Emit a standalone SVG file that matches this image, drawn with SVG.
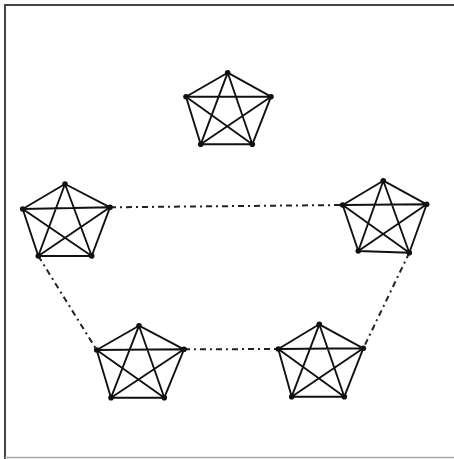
<svg xmlns="http://www.w3.org/2000/svg" width="454" height="459" viewBox="0 0 454 459">
<style>
.k{fill:none;stroke:#111;stroke-width:1.9;stroke-linejoin:round}
.d{fill:#111}
.c{fill:none;stroke:#222;stroke-width:2;stroke-dasharray:6 4 2 4}
</style>
<rect x="0" y="0" width="454" height="459" fill="#fff"/>
<path d="M5 459V5H454" fill="none" stroke="#444" stroke-width="2"/>
<path d="M5 457.5H454" fill="none" stroke="#aaa" stroke-width="1.5"/>
<g id="connectors">
<path class="c" d="M110 207.3L342.7 205"/>
<path class="c" d="M38.3 256L96.7 350"/>
<path class="c" d="M184 349.3L278.3 349"/>
<path class="c" d="M409.3 252.7L363.3 348.3"/>
</g>
<g id="k5-top">
<path class="k" d="M227.7 72.7L271 96.7L252.3 144.3L200.7 144.3L186 96.7Z M227.7 72.7L252.3 144.3L186 96.7L271 96.7L200.7 144.3Z"/>
<g class="d"><circle cx="227.7" cy="72.7" r="2.8"/><circle cx="271" cy="96.7" r="2.8"/><circle cx="252.3" cy="144.3" r="2.8"/><circle cx="200.7" cy="144.3" r="2.8"/><circle cx="186" cy="96.7" r="2.8"/></g>
</g>
<g id="k5-left">
<path class="k" d="M65 184L110 207.3L91.7 256L38.3 256L22.7 209Z M65 184L91.7 256L22.7 209L110 207.3L38.3 256Z"/>
<g class="d"><circle cx="65" cy="184" r="2.8"/><circle cx="110" cy="207.3" r="2.8"/><circle cx="91.7" cy="256" r="2.8"/><circle cx="38.3" cy="256" r="2.8"/><circle cx="22.7" cy="209" r="2.8"/></g>
</g>
<g id="k5-right">
<path class="k" d="M383.3 180.7L426.7 204.3L409.3 252.7L358.3 251L342.7 205Z M383.3 180.7L409.3 252.7L342.7 205L426.7 204.3L358.3 251Z"/>
<g class="d"><circle cx="383.3" cy="180.7" r="2.8"/><circle cx="426.7" cy="204.3" r="2.8"/><circle cx="409.3" cy="252.7" r="2.8"/><circle cx="358.3" cy="251" r="2.8"/><circle cx="342.7" cy="205" r="2.8"/></g>
</g>
<g id="k5-bottom-left">
<path class="k" d="M139 325.7L184 349.3L164.3 397.7L111 397.7L96.7 350Z M139 325.7L164.3 397.7L96.7 350L184 349.3L111 397.7Z"/>
<g class="d"><circle cx="139" cy="325.7" r="2.8"/><circle cx="184" cy="349.3" r="2.8"/><circle cx="164.3" cy="397.7" r="2.8"/><circle cx="111" cy="397.7" r="2.8"/><circle cx="96.7" cy="350" r="2.8"/></g>
</g>
<g id="k5-bottom-right">
<path class="k" d="M319.3 324.3L363.3 348.3L344.3 396.7L291.7 396.7L278.3 349Z M319.3 324.3L344.3 396.7L278.3 349L363.3 348.3L291.7 396.7Z"/>
<g class="d"><circle cx="319.3" cy="324.3" r="2.8"/><circle cx="363.3" cy="348.3" r="2.8"/><circle cx="344.3" cy="396.7" r="2.8"/><circle cx="291.7" cy="396.7" r="2.8"/><circle cx="278.3" cy="349" r="2.8"/></g>
</g>
</svg>
